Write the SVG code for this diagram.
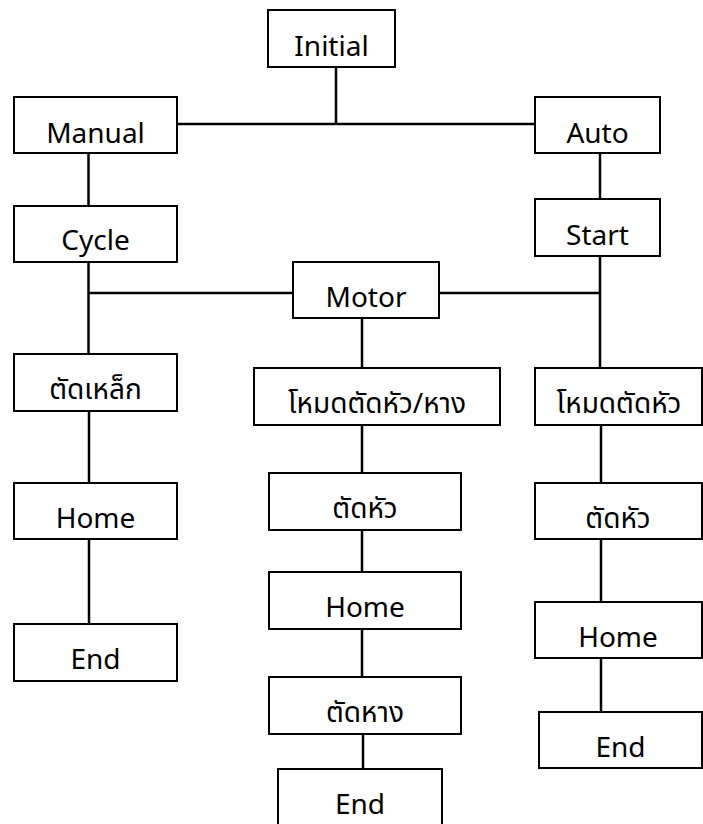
<svg xmlns="http://www.w3.org/2000/svg" width="703" height="824" viewBox="0 0 703 824">
<style>
.n rect{fill:#fff;stroke:#000;stroke-width:2}
.n text{font-family:"Noto Sans","Noto Sans Thai","Leelawadee UI",Tahoma,sans-serif;font-size:28px;text-anchor:middle;fill:#000}
#connectors line{stroke:#000;stroke-width:2.5}
</style>
<rect width="703" height="824" fill="#fff"/>
<g id="connectors">
<line x1="336" y1="67" x2="336" y2="124"/>
<line x1="177" y1="124" x2="535" y2="124"/>
<line x1="88.5" y1="153" x2="88.5" y2="206"/>
<line x1="600" y1="153" x2="600" y2="199"/>
<line x1="88.5" y1="262" x2="88.5" y2="354"/>
<line x1="88.5" y1="293" x2="293" y2="293"/>
<line x1="439" y1="293" x2="600" y2="293"/>
<line x1="600" y1="256" x2="600" y2="368"/>
<line x1="362" y1="318" x2="362" y2="368"/>
<line x1="89" y1="411" x2="89" y2="483"/>
<line x1="89" y1="539" x2="89" y2="624"/>
<line x1="362" y1="425" x2="362" y2="473"/>
<line x1="362" y1="530" x2="362" y2="572"/>
<line x1="362" y1="629" x2="362" y2="677"/>
<line x1="363" y1="734" x2="363" y2="769"/>
<line x1="601" y1="425" x2="601" y2="483"/>
<line x1="601" y1="539" x2="601" y2="602"/>
<line x1="601" y1="658" x2="601" y2="712"/>
</g>
<g id="initial" class="n"><rect x="268" y="10" width="127" height="57"/><text x="331.5" y="56">Initial</text></g>
<g id="manual" class="n"><rect x="14" y="97" width="163" height="56"/><text x="95.5" y="143">Manual</text></g>
<g id="auto" class="n"><rect x="535" y="97" width="125" height="56"/><text x="597.5" y="143">Auto</text></g>
<g id="cycle" class="n"><rect x="14" y="206" width="163" height="56"/><text x="95.5" y="250">Cycle</text></g>
<g id="start" class="n"><rect x="535" y="199" width="125" height="57"/><text x="597.5" y="245">Start</text></g>
<g id="motor" class="n"><rect x="293" y="262" width="146" height="56"/><text x="366" y="307">Motor</text></g>
<g id="cut-steel" class="n"><rect x="14" y="354" width="163" height="57"/><text x="95.5" y="399">ตัดเหล็ก</text></g>
<g id="mode-head-tail" class="n"><rect x="254" y="368" width="246" height="57"/><text x="377" y="413">โหมดตัดหัว/หาง</text></g>
<g id="mode-head" class="n"><rect x="535" y="368" width="167" height="57"/><text x="619" y="413">โหมดตัดหัว</text></g>
<g id="home-left" class="n"><rect x="14" y="483" width="163" height="56"/><text x="95.5" y="528">Home</text></g>
<g id="cut-head-mid" class="n"><rect x="269" y="473" width="192" height="57"/><text x="365" y="518">ตัดหัว</text></g>
<g id="cut-head-right" class="n"><rect x="535" y="483" width="167" height="56"/><text x="618" y="528">ตัดหัว</text></g>
<g id="end-left" class="n"><rect x="14" y="624" width="163" height="57"/><text x="95.5" y="669">End</text></g>
<g id="home-mid" class="n"><rect x="269" y="572" width="192" height="57"/><text x="365" y="617">Home</text></g>
<g id="home-right" class="n"><rect x="535" y="602" width="167" height="56"/><text x="618" y="647">Home</text></g>
<g id="cut-tail" class="n"><rect x="269" y="677" width="192" height="57"/><text x="365" y="722">ตัดหาง</text></g>
<g id="end-right" class="n"><rect x="539" y="712" width="163" height="56"/><text x="620.5" y="757">End</text></g>
<g id="end-mid" class="n"><rect x="278" y="769" width="164" height="60"/><text x="360" y="814">End</text></g>
</svg>
